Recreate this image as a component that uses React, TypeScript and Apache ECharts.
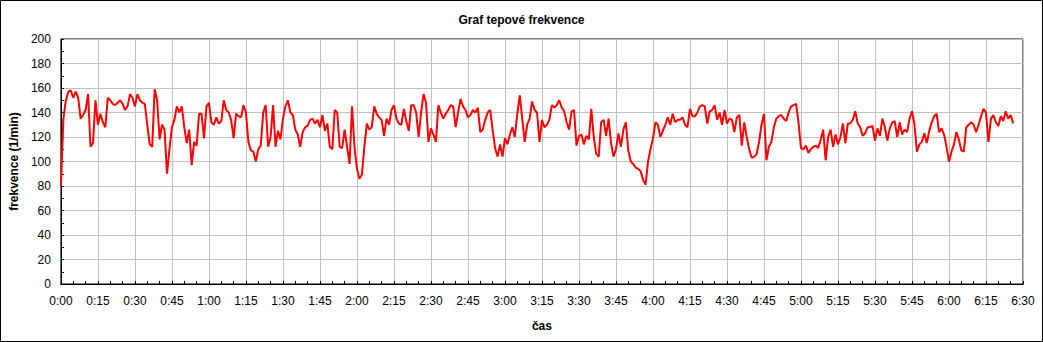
import React, { useEffect, useRef } from "react";
import * as echarts from "echarts";

const chartTitle = "Graf tepové frekvence";
const yAxisName = "frekvence (1/min)";
const xAxisName = "čas";

// heart rate, one value per minute starting at 0:00
const hr: number[] = [
  80, 135, 150, 157, 158, 152, 157, 152, 135, 138,
  142, 155, 112, 115, 150, 130, 139, 132, 128, 152,
  150, 147, 146, 148, 150, 147, 142, 145, 155, 152,
  145, 155, 150, 148, 147, 130, 114, 112, 159, 150,
  118, 130, 126, 90, 110, 128, 134, 145, 140, 145,
  128, 115, 126, 97, 116, 113, 139, 139, 119, 145,
  148, 132, 130, 136, 131, 133, 150, 142, 140, 134,
  119, 139, 137, 136, 146, 140, 116, 109, 108, 100,
  110, 113, 140, 146, 112, 120, 146, 112, 125, 118,
  135, 145, 150, 140, 138, 126, 122, 112, 124, 128,
  129, 134, 135, 131, 134, 128, 138, 125, 131, 112,
  110, 142, 140, 112, 111, 126, 112, 98, 145, 112,
  94, 86, 89, 112, 131, 126, 128, 145, 139, 136,
  134, 121, 135, 130, 142, 146, 135, 131, 130, 143,
  133, 125, 146, 146, 140, 120, 140, 155, 148, 116,
  127, 122, 116, 146, 140, 135, 139, 142, 146, 145,
  128, 140, 151, 145, 142, 136, 138, 142, 140, 144,
  124, 126, 134, 140, 142, 126, 111, 104, 114, 104,
  119, 114, 122, 128, 120, 139, 154, 135, 116, 130,
  135, 149, 142, 140, 116, 134, 128, 130, 134, 146,
  144, 146, 150, 144, 141, 132, 126, 141, 142, 113,
  121, 122, 114, 121, 118, 143, 120, 106, 104, 132,
  134, 121, 135, 115, 104, 110, 123, 112, 126, 132,
  109, 100, 98, 95, 94, 92, 85, 81, 100, 110,
  119, 132, 130, 120, 125, 130, 136, 130, 139, 132,
  134, 134, 136, 130, 128, 143, 137, 137, 140, 145,
  146, 145, 131, 141, 142, 146, 134, 140, 130, 142,
  131, 135, 134, 124, 136, 138, 113, 132, 120, 110,
  103, 104, 106, 116, 130, 139, 101, 112, 116, 128,
  135, 137, 138, 135, 133, 140, 145, 146, 147, 132,
  111, 110, 113, 107, 110, 112, 113, 111, 118, 126,
  101, 120, 126, 112, 122, 114, 120, 131, 115, 131,
  131, 134, 141, 131, 128, 121, 123, 128, 128, 129,
  117, 127, 121, 135, 128, 117, 127, 132, 133, 120,
  132, 122, 126, 124, 135, 141, 130, 108, 114, 116,
  123, 115, 125, 132, 137, 139, 124, 127, 122, 112,
  100, 108, 114, 124, 118, 109, 108, 128, 130, 132,
  130, 124, 130, 137, 143, 140, 116, 135, 138, 132,
  129, 137, 133, 141, 135, 138, 131,
];

const xMin = 0;
const xMax = 390;
const xStep = 15;
const yMin = 0;
const yMax = 200;
const yStep = 20;

const FONT = "'Liberation Sans', Arial, sans-serif";

function fmtTime(m: number): string {
  const h = Math.floor(m / 60);
  const mm = Math.round(m % 60);
  return `${h}:${mm < 10 ? "0" + mm : mm}`;
}

export default function App() {
  const ref = useRef<HTMLDivElement>(null);
  useEffect(() => {
    if (!ref.current) return;
    const chart = echarts.init(ref.current, undefined, { renderer: "svg" });
    const data = hr.map((v, i) => [i, v]);
    chart.setOption({
      animation: false,
      backgroundColor: "#ffffff",
      title: {
        text: chartTitle,
        left: "center",
        top: 9,
        textStyle: { fontFamily: FONT, fontSize: 12, fontWeight: "bold", color: "#000" },
      },
      graphic: [
        {
          type: "rect",
          shape: { x: 0.5, y: 0.5, width: 1042, height: 341 },
          style: { fill: "none", stroke: "#000", lineWidth: 1 },
          silent: true,
        },
      ],
      grid: {
        left: 60,
        top: 39,
        right: 20,
        bottom: 58,
        show: true,
        borderColor: "#000",
        borderWidth: 1,
        backgroundColor: "#fff",
      },
      xAxis: {
        type: "value",
        min: xMin,
        max: xMax,
        interval: xStep,
        name: xAxisName,
        nameLocation: "middle",
        nameGap: 36,
        nameTextStyle: { fontFamily: FONT, fontSize: 12, fontWeight: "bold", color: "#000" },
        axisLine: { lineStyle: { color: "#000", width: 1 } },
        axisTick: { inside: true, length: 3, lineStyle: { color: "#000" } },
        minorTick: { show: true, splitNumber: 3, length: 3, lineStyle: { color: "#000" } },
        axisLabel: {
          fontFamily: FONT,
          fontSize: 12,
          color: "#000",
          margin: 11,
          formatter: (v: number) => fmtTime(v),
        },
        splitLine: { show: true, lineStyle: { color: "#c0c0c0", width: 1 } },
      },
      yAxis: {
        type: "value",
        min: yMin,
        max: yMax,
        interval: yStep,
        name: yAxisName,
        nameLocation: "middle",
        nameGap: 38,
        nameTextStyle: { fontFamily: FONT, fontSize: 12, fontWeight: "bold", color: "#000" },
        axisLine: { show: true, lineStyle: { color: "#000", width: 1 } },
        axisTick: { show: true, inside: true, length: 3, lineStyle: { color: "#000" } },
        minorTick: { show: true, splitNumber: 2, length: 3, lineStyle: { color: "#000" } },
        axisLabel: { fontFamily: FONT, fontSize: 12, color: "#000", margin: 10 },
        splitLine: { show: true, lineStyle: { color: "#c0c0c0", width: 1 } },
      },
      series: [
        {
          type: "line",
          data,
          showSymbol: false,
          symbol: "none",
          lineStyle: { color: "#ff0000", width: 2 },
          itemStyle: { color: "#ff0000" },
        },
      ],
    });
    return () => chart.dispose();
  }, []);
  return (
    <div
      ref={ref}
      style={{ position: "absolute", left: 0, top: 0, width: 1043, height: 342 }}
    />
  );
}
